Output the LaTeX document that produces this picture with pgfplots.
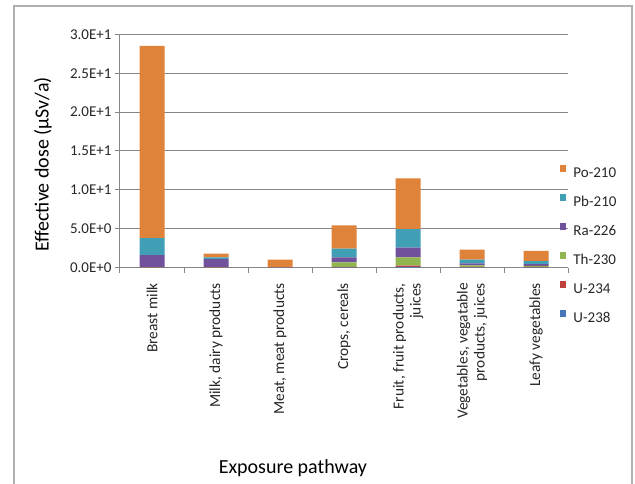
\documentclass[border=0pt]{standalone}
\usepackage{pgfplots}
\pgfplotsset{compat=1.18}
\usepackage{pgfplotstable}
\usepackage{fontspec}
\setmainfont{Carlito}
\definecolor{cPo}{RGB}{222,131,57}
\definecolor{cPb}{RGB}{64,158,181}
\definecolor{cRa}{RGB}{112,82,156}
\definecolor{cTh}{RGB}{145,182,80}
\definecolor{cU4}{RGB}{190,65,60}
\definecolor{cU8}{RGB}{70,120,185}
\definecolor{axgray}{RGB}{134,134,134}
\definecolor{framegray}{RGB}{175,175,175}
\pgfplotstableread{
x U238 U234 Th230 Ra226 Pb210 Po210
0 0.02 0.02 0.02 1.55 2.2 24.7
1 0.02 0.02 0.02 1.05 0.22 0.47
2 0.005 0.005 0.01 0.01 0.01 0.99
3 0.04 0.05 0.6 0.64 1.11 3.0
4 0.1 0.16 1.07 1.24 2.4 6.5
5 0.05 0.05 0.2 0.26 0.47 1.28
6 0.05 0.05 0.15 0.22 0.39 1.29
}\datatable
\begin{document}
\begin{tikzpicture}[x=1pt,y=1pt]
\useasboundingbox (0,0) rectangle (635,484);
\draw[draw=framegray, line width=1.5pt] (14,-2) -- (14,478) -- (632,478) -- (632,-2);
\begin{axis}[
  at={(120pt,216.3pt)}, anchor=south west, scale only axis,
  width=448pt, height=233.4pt,
  ybar stacked, bar width=25pt,
  xmin=-0.5, xmax=6.5, ymin=0, ymax=30,
  axis x line*=bottom, axis y line*=left,
  axis line style={-, draw=axgray, line width=1pt},
  ytick={0,5,...,30},
  yticklabels={0.0E+0,5.0E+0,1.0E+1,1.5E+1,2.0E+1,2.5E+1,3.0E+1},
  ymajorgrids, grid style={draw=axgray, line width=1pt},
  tick align=outside, major tick length=5pt, minor tick length=5pt,
  tick style={draw=axgray, line width=1pt},
  xtick={0,...,6},
  major x tick style={draw=none},
  minor xtick={-0.5,0.5,...,6.5},
  xticklabels={{Breast milk},{Milk, dairy products},{Meat, meat products},{Crops, cereals},{Fruit, fruit products,\\juices},{Vegetables, vegatable\\products, juices},{Leafy vegetables}},
  xticklabel shift=7pt,
  xticklabel style={rotate=90, anchor=east, align=right, font=\fontsize{15.4}{17}\selectfont, text=black!85},
  yticklabel style={font=\fontsize{15}{18}\selectfont, text=black!85},
  ylabel={Effective dose (µSv/a)},
  ylabel style={at={(axis description cs:-0.172,0.442)}, anchor=center, font=\fontsize{20}{24}\selectfont},
  xlabel={Exposure pathway},
  xlabel style={at={(axis description cs:0.386,-0.858)}, anchor=center, font=\fontsize{20}{24}\selectfont},
  every axis plot/.append style={draw=none},
  legend image code/.code={\fill[#1] (0pt,1.5pt) rectangle (6.5pt,8pt);},
  reverse legend,
  legend cell align=left,
  legend style={at={(axis description cs:0.982,0.098)}, anchor=west, draw=none, fill=none,
    inner sep=0pt, outer sep=0pt, row sep=15pt, column sep=0pt,
    nodes={inner sep=0pt, outer sep=0pt, text height=10pt, text depth=2pt, font=\fontsize{15}{18}\selectfont, text=black!85},
    /tikz/every odd column/.append style={column sep=7pt}},
]
\addplot[fill=cU8] table[x=x,y=U238]{\datatable};
\addplot[fill=cU4] table[x=x,y=U234]{\datatable};
\addplot[fill=cTh] table[x=x,y=Th230]{\datatable};
\addplot[fill=cRa] table[x=x,y=Ra226]{\datatable};
\addplot[fill=cPb] table[x=x,y=Pb210]{\datatable};
\addplot[fill=cPo] table[x=x,y=Po210]{\datatable};
\legend{U-238,U-234,Th-230,Ra-226,Pb-210,Po-210}
\end{axis}
\end{tikzpicture}
\end{document}
